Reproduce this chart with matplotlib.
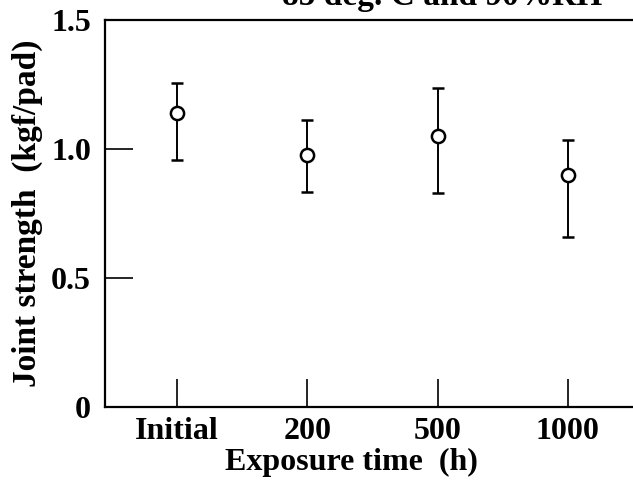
import matplotlib
matplotlib.use("Agg")
import matplotlib.pyplot as plt
import numpy as np

# exposure groups and joint strength readings (kgf/pad)
LABELS = ["Initial", "200", "500", "1000"]
MEAN = [1.139, 0.977, 1.050, 0.900]
UPPER = [1.255, 1.112, 1.236, 1.035]
LOWER = [0.958, 0.834, 0.830, 0.660]
YTICKS = [0, 0.5, 1.0, 1.5]
YTICK_LABELS = ["0", "0.5", "1.0", "1.5"]

plt.rcParams["font.family"] = ["Liberation Serif", "DejaVu Serif"]
plt.rcParams["font.weight"] = "bold"
plt.rcParams["axes.labelweight"] = "bold"

fig = plt.figure(figsize=(6.33, 4.90), dpi=100)
# right spine falls just outside the picture, as in the scan
ax = fig.add_axes([105 / 633, 83 / 490, 560 / 633, 387 / 490])

xs = np.arange(len(LABELS))
mean = np.array(MEAN)
yerr = [mean - np.array(LOWER), np.array(UPPER) - mean]
ax.errorbar(xs, mean, yerr=yerr, fmt="o", ms=9.5, mfc="white", mec="black",
            mew=1.8, ecolor="black", elinewidth=1.4, capsize=4.5, capthick=1.4)

ax.set_xlim(-0.553, 3.745)
ax.set_ylim(0, 1.5)
ax.set_xticks(xs)
ax.set_xticklabels(LABELS, fontsize=23)
ax.set_yticks(YTICKS)
ax.set_yticklabels(YTICK_LABELS, fontsize=23)
ax.tick_params(direction="in", length=20, width=1.2, pad=7)
ax.tick_params(axis="y", pad=10)
for s in ax.spines.values():
    s.set_linewidth(1.6)

ax.set_xlabel("Exposure time  (h)", fontsize=23)
ax.xaxis.set_label_coords(0.44, -0.105)
ax.set_ylabel("Joint strength  (kgf/pad)", fontsize=24, labelpad=6)

# title sits mostly above the crop, only its lower part shows
fig.text(0.445, 0.99, "85 deg. C and 90%RH", fontsize=24, ha="left", va="baseline")

fig.savefig("out.png", dpi=100)
